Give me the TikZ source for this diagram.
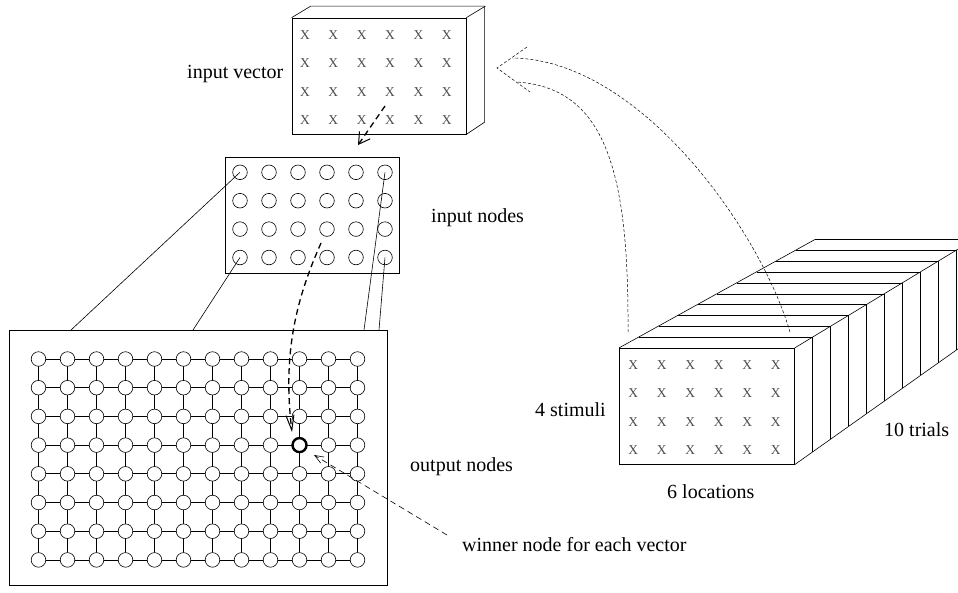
\documentclass[tikz,border=0pt]{standalone}
\usepackage{fontspec}
\setmainfont{Liberation Serif}
\usetikzlibrary{arrows.meta}
\tikzset{
  lbl/.style={font=\fontsize{20}{24}\selectfont, inner sep=0pt, anchor=base west},
  xmark/.style={font=\fontsize{13.5}{14}\selectfont, inner sep=0pt, text=black!70},
  boxface/.style={draw, line width=0.7pt, inner sep=0pt},
  thinline/.style={line width=0.6pt},
  inode/.style={circle, draw, line width=0.6pt, minimum size=14.6pt, inner sep=0pt},
  gnode/.style={circle, draw, fill=white, line width=0.6pt, minimum size=14.6pt, inner sep=0pt},
  gridline/.style={line width=0.8pt},
  winner/.style={circle, draw, fill=white, line width=2.4pt, minimum size=14pt, inner sep=0pt},
  bigdash/.style={line width=1.3pt, dash pattern=on 6pt off 4pt},
  fbdash/.style={line width=0.5pt, dash pattern=on 3pt off 2pt},
  ptrdash/.style={line width=0.6pt, dash pattern=on 6pt off 4pt},
}
\begin{document}
\begin{tikzpicture}[x=1pt,y=-1pt]
\useasboundingbox (0,0) rectangle (958,592);
\clip (0,0) rectangle (958,592);

% ---------- input vector (3D box) ----------
\node[boxface, minimum width=174pt, minimum height=116pt] (iv) at (379,76) {};
\draw[thinline] (iv.north west) -- ++(19,-11.5) -- ++(174,0) -- ++(0,116) -- (iv.south east);
\draw[thinline] (iv.north east) -- ++(19,-11.5);
\foreach \c in {0,...,5}
  \foreach \r in {0,...,3}
    \node[xmark] (ivx-\c-\r) at ({305+28.35*\c},{35+28.35*\r}) {X};
\node[lbl] (ivlabel) at (187,78) {input vector};

% ---------- input nodes ----------
\node[boxface, minimum width=174pt, minimum height=116pt] (inb) at (312,215) {};
\foreach \c in {0,...,5}
  \foreach \r in {0,...,3}
    \node[inode] (in-\c-\r) at ({240+29*\c},{172.3+28.4*\r}) {};
\node[lbl] (inlabel) at (431,222) {input nodes};

% ---------- output nodes ----------
\node[boxface, minimum width=378pt, minimum height=255pt] (ob) at (198,457.5) {};
\foreach \c in {0,...,11}
  \foreach \r in {0,...,7}
    \coordinate (p-\c-\r) at ({38.5+29*\c},{359+28.7*\r});
\foreach \c in {0,...,11}
  \draw[gridline] (p-\c-0) -- (p-\c-7);
\foreach \r in {0,...,7}
  \draw[gridline] (p-0-\r) -- (p-11-\r);
\foreach \c in {0,...,11}
  \foreach \r in {0,...,7}
    \node[gnode] (g-\c-\r) at (p-\c-\r) {};
\node[winner] (win) at (p-9-3) {};
\node[lbl] (outlabel) at (410,471) {output nodes};

% connections input nodes -> output map
\coordinate (ob1) at (71,330);
\coordinate (ob2) at (193,330);
\coordinate (ob3) at (364,330);
\coordinate (ob4) at (379,330);
\draw[thinline] (in-0-0.center) -- (ob1);
\draw[thinline] (in-0-3.center) -- (ob2);
\draw[thinline] (in-5-0.center) -- (ob3);
\draw[thinline] (in-5-3.center) -- (ob4);

% thick dashed arrows
\coordinate (ivs) at (385,106);
\coordinate (ivt) at (358,145);
\draw[bigdash, -{Straight Barb[length=11pt,width=13pt,line width=1pt]}] (ivs) -- (ivt);
\coordinate (ins) at (321,243);
\coordinate (wint) at (292,432);
\draw[bigdash, -{Straight Barb[length=15pt,width=8pt,line width=1pt]}] (ins) .. controls (298,295) and (282,350) .. (wint);

% winner pointer
\node[lbl] (winlabel) at (462,551) {winner node for each vector};
\coordinate (wins) at (447,535);
\coordinate (wine) at (314,455);
\draw[ptrdash, -{Straight Barb[length=9pt,width=7pt,line width=0.6pt]}] (wins) -- (wine);

% ---------- data stack ----------
\node[boxface, minimum width=175pt, minimum height=116pt] (sf) at (706.8,406.3) {};
\foreach \c in {0,...,5}
  \foreach \r in {0,...,3}
    \node[xmark] (sx-\c-\r) at ({633.3+28.5*\c},{365+28.35*\r}) {X};
\foreach \i in {1,...,10}
  \draw[thinline] ({619.3+19.6*\i},{348.3-10.9*\i}) -- ({794.3+18*\i},{348.3-10.9*\i}) -- ({794.3+18*\i},{464.3-12.7*\i});
\draw[thinline] (sf.north west) -- ({619.3+196},{348.3-109});
\draw[thinline] (sf.north east) -- ({794.3+180},{348.3-109});
\draw[thinline] (sf.south east) -- ({794.3+180},{464.3-127});
\node[lbl] (stimlabel) at (535,416) {4 stimuli};
\node[lbl] (loclabel) at (667,498) {6 locations};
\node[lbl] (triallabel) at (884,436) {10 trials};

% feedback curves from the stack to the input vector
\coordinate (fa) at (628,332);
\coordinate (fb) at (790,332);
\coordinate (fae) at (517,82);
\coordinate (fbe) at (513,58);
\coordinate (ftip) at (497,68);
\draw[fbdash] (fa) .. controls (629,170) and (605,88) .. (fae);
\draw[fbdash] (fb) .. controls (760,230) and (640,60) .. (fbe);
\draw[fbdash] (527,47) -- (ftip) -- (530,92);
\end{tikzpicture}
\end{document}
